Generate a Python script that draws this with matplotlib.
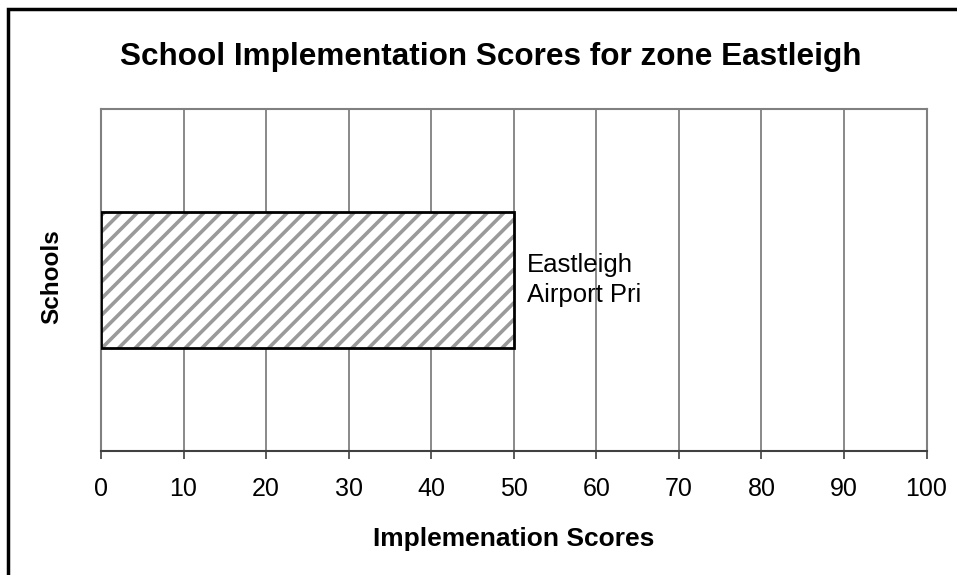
import matplotlib
matplotlib.use("Agg")
import matplotlib.pyplot as plt
from matplotlib.patches import Rectangle

schools = ["Eastleigh\nAirport Pri"]
scores = [50]
xticks = [0, 10, 20, 30, 40, 50, 60, 70, 80, 90, 100]
title = "School Implementation Scores for zone Eastleigh"

plt.rcParams['font.family'] = ['Liberation Sans', 'DejaVu Sans']
plt.rcParams['hatch.linewidth'] = 2.6

W, H = 957, 575
fig = plt.figure(figsize=(W / 100, H / 100), dpi=100)
ax = fig.add_axes([101 / W, 1 - 451 / H, (926.5 - 101) / W, (451 - 109) / H])

ypos = list(range(len(schools)))
# hatched fill (grey stripes) then black outline
ax.barh(ypos, scores, height=0.4, color='white', edgecolor='#9a9a9a',
        linewidth=0, hatch='//', zorder=3)
ax.barh(ypos, scores, height=0.4, fill=False, edgecolor='black',
        linewidth=2, zorder=4)
for y, s, name in zip(ypos, scores, schools):
    ax.text(s + 1.6, y, name, va='center', ha='left', fontsize=18.5,
            linespacing=1.3, zorder=5)

ax.set_xlim(0, 100)
ax.set_ylim(-0.5, 0.5)
ax.set_xticks(xticks)
ax.set_xticklabels([str(t) for t in xticks], fontsize=18)
ax.set_yticks([])
ax.grid(axis='x', color='#808080', linewidth=1.3, zorder=1)
for side in ['top', 'left', 'right']:
    ax.spines[side].set_color('#808080')
    ax.spines[side].set_linewidth(1.5)
ax.spines['bottom'].set_color('#404040')
ax.spines['bottom'].set_linewidth(1.5)
ax.tick_params(axis='x', length=6, width=1.2, color='#404040', pad=12.5)

ax.set_xlabel("Implemenation Scores", fontsize=19, fontweight='bold', labelpad=19)
ax.set_ylabel("Schools", fontsize=17.5, fontweight='bold')
ax.yaxis.set_label_coords(-0.046, 0.51)
fig.text(491 / W, 1 - 57 / H, title, ha='center', va='center',
         fontsize=22.7, fontweight='bold')

fig.patches.append(Rectangle((8 / W, -0.1), 1.2, 1 - 9 / H + 0.1,
                             transform=fig.transFigure, fill=False,
                             edgecolor='black', linewidth=2.5, clip_on=False))

fig.savefig("out.png", dpi=100)
